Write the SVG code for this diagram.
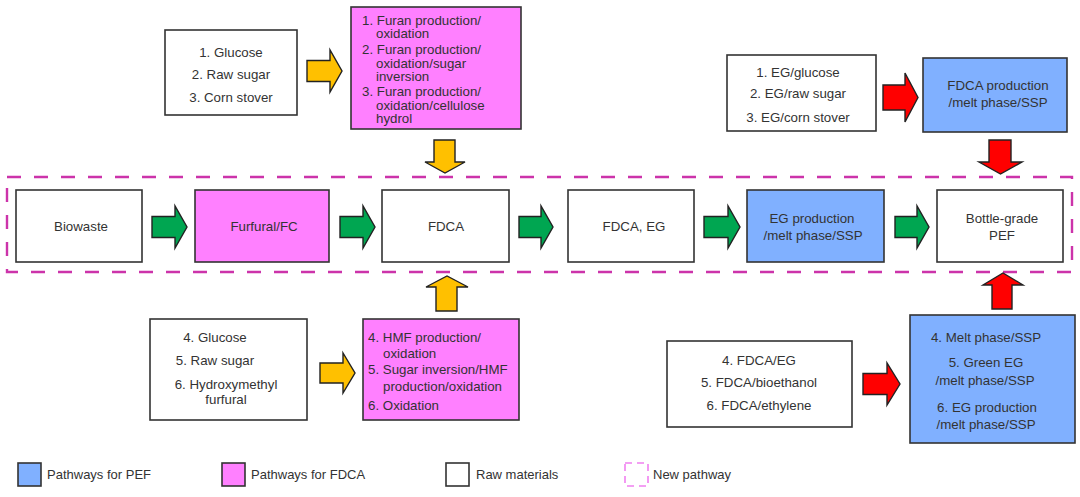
<svg xmlns="http://www.w3.org/2000/svg" width="1080" height="497" viewBox="0 0 1080 497">
<style>
  .box { stroke: #333; stroke-width: 1.6; }
  .raw { fill: #ffffff; }
  .pink { fill: #ff80ff; }
  .blue { fill: #80b0ff; }
  .arr { stroke: #222; stroke-width: 1.4; stroke-linejoin: miter; }
  .green { fill: #00a651; }
  .yellow { fill: #ffc000; }
  .red { fill: #ff0000; }
  text { font-family: "Liberation Sans", Arial, sans-serif; font-size: 13.3px; fill: #333; }
  .c { text-anchor: middle; }
  .lg { font-size: 13px; }
</style>
<rect width="1080" height="497" fill="#ffffff"/>

<g id="new-pathway">
  <rect x="7" y="177" width="1065" height="95" fill="none" stroke="#cc33aa" stroke-width="2.4" stroke-dasharray="14 13"/>
</g>

<g id="connectors">
  <polygon class="arr green" points="152,216.5 175,216.5 175,206 187,227 175,248 175,237.5 152,237.5"/>
  <polygon class="arr green" points="340,216.5 363,216.5 363,206 375,227 363,248 363,237.5 340,237.5"/>
  <polygon class="arr green" points="519,216.5 541,216.5 541,206 553,227 541,248 541,237.5 519,237.5"/>
  <polygon class="arr green" points="704,216.5 728,216.5 728,206 740,227 728,248 728,237.5 704,237.5"/>
  <polygon class="arr green" points="895,216.5 917,216.5 917,206 929,227 917,248 917,237.5 895,237.5"/>
  <polygon class="arr yellow" points="307,60.5 330,60.5 330,50 342,71 330,92 330,81.5 307,81.5"/>
  <polygon class="arr yellow" points="320,363 343,363 343,353 355,373 343,393 343,383 320,383"/>
  <polygon class="arr red" points="883,85 905,85 905,73 918,97.5 905,122 905,110 883,110"/>
  <polygon class="arr red" points="863,373.5 887,373.5 887,363 900,384 887,405 887,394.5 863,394.5"/>
  <polygon class="arr yellow" points="434,140 455,140 455,162 465,162 445,173 425,162 434,162"/>
  <polygon class="arr red" points="989,140 1011,140 1011,162 1022,162 1000.5,174 979,162 989,162"/>
  <polygon class="arr yellow" points="436,311 457,311 457,287 468,287 447,276 426,287 436,287"/>
  <polygon class="arr red" points="992,309 1012,309 1012,285 1023,285 1003,273 983,285 992,285"/>
</g>

<g id="raw-top-left">
  <rect class="box raw" x="165" y="30" width="132" height="85"/>
  <text class="c" x="231" y="57">1. Glucose</text>
  <text class="c" x="231" y="79">2. Raw sugar</text>
  <text class="c" x="231" y="102">3. Corn stover</text>
</g>

<g id="fdca-top">
  <rect class="box pink" x="351" y="7" width="170" height="122"/>
  <text x="362" y="24.5">1. Furan production/</text>
  <text x="376" y="37.5">oxidation</text>
  <text x="362" y="54">2. Furan production/</text>
  <text x="376" y="67.5">oxidation/sugar</text>
  <text x="376" y="81">inversion</text>
  <text x="362" y="96">3. Furan production/</text>
  <text x="376" y="109.5">oxidation/cellulose</text>
  <text x="376" y="123">hydrol</text>
</g>

<g id="raw-top-right">
  <rect class="box raw" x="727" y="55" width="149" height="76"/>
  <text class="c" x="798" y="76.5">1. EG/glucose</text>
  <text class="c" x="798" y="98">2. EG/raw sugar</text>
  <text class="c" x="798" y="121.5">3. EG/corn stover</text>
</g>

<g id="pef-top">
  <rect class="box blue" x="923" y="58" width="144" height="74"/>
  <text class="c" x="998" y="89.5">FDCA production</text>
  <text class="c" x="998" y="106.5">/melt phase/SSP</text>
</g>

<g id="biowaste">
  <rect class="box raw" x="16" y="190" width="126" height="72"/>
  <text class="c" x="81" y="230.5">Biowaste</text>
</g>

<g id="furfural">
  <rect class="box pink" x="195" y="190" width="134" height="72"/>
  <text class="c" x="264" y="230.5">Furfural/FC</text>
</g>

<g id="fdca">
  <rect class="box raw" x="382" y="190" width="127" height="72"/>
  <text class="c" x="446" y="230.5">FDCA</text>
</g>

<g id="fdca-eg">
  <rect class="box raw" x="568" y="190" width="126" height="72"/>
  <text class="c" x="634" y="230.5">FDCA, EG</text>
</g>

<g id="eg-production">
  <rect class="box blue" x="747" y="190" width="137" height="72"/>
  <text class="c" x="812" y="222.5">EG production</text>
  <text class="c" x="813" y="240">/melt phase/SSP</text>
</g>

<g id="bottle-pef">
  <rect class="box raw" x="937" y="190" width="126" height="72"/>
  <text class="c" x="1002" y="222.5">Bottle-grade</text>
  <text class="c" x="1002" y="240">PEF</text>
</g>

<g id="raw-bottom-left">
  <rect class="box raw" x="150" y="319" width="157" height="101"/>
  <text class="c" x="215" y="341.5">4. Glucose</text>
  <text class="c" x="215" y="364.5">5. Raw sugar</text>
  <text class="c" x="226" y="388.5">6. Hydroxymethyl</text>
  <text class="c" x="226" y="403.5">furfural</text>
</g>

<g id="fdca-bottom">
  <rect class="box pink" x="363" y="319" width="156" height="101"/>
  <text x="368" y="341.5">4. HMF production/</text>
  <text x="383" y="357.5">oxidation</text>
  <text x="368" y="373.5">5. Sugar inversion/HMF</text>
  <text x="383" y="391">production/oxidation</text>
  <text x="368" y="409.5">6. Oxidation</text>
</g>

<g id="raw-bottom-right">
  <rect class="box raw" x="667" y="341" width="185" height="86"/>
  <text class="c" x="759" y="364.5">4. FDCA/EG</text>
  <text class="c" x="759" y="386.5">5. FDCA/bioethanol</text>
  <text class="c" x="759" y="409.5">6. FDCA/ethylene</text>
</g>

<g id="pef-bottom">
  <rect class="box blue" x="910" y="315" width="165" height="128"/>
  <text class="c" x="986" y="341.5">4. Melt phase/SSP</text>
  <text class="c" x="986" y="366.5">5. Green EG</text>
  <text class="c" x="985" y="384.5">/melt phase/SSP</text>
  <text class="c" x="987" y="411.5">6. EG production</text>
  <text class="c" x="986" y="428.5">/melt phase/SSP</text>
</g>

<g id="legend">
  <rect class="box blue" x="18" y="463" width="23" height="23"/>
  <text class="lg" x="47" y="479">Pathways for PEF</text>
  <rect class="box pink" x="222" y="463" width="23" height="23"/>
  <text class="lg" x="251" y="479">Pathways for FDCA</text>
  <rect class="box raw" x="446" y="463" width="23" height="23"/>
  <text class="lg" x="476" y="479">Raw materials</text>
  <rect x="625" y="463" width="23" height="23" fill="none" stroke="#f080f0" stroke-width="1.6" stroke-dasharray="7 5"/>
  <text class="lg" x="653" y="479">New pathway</text>
</g>
</svg>
